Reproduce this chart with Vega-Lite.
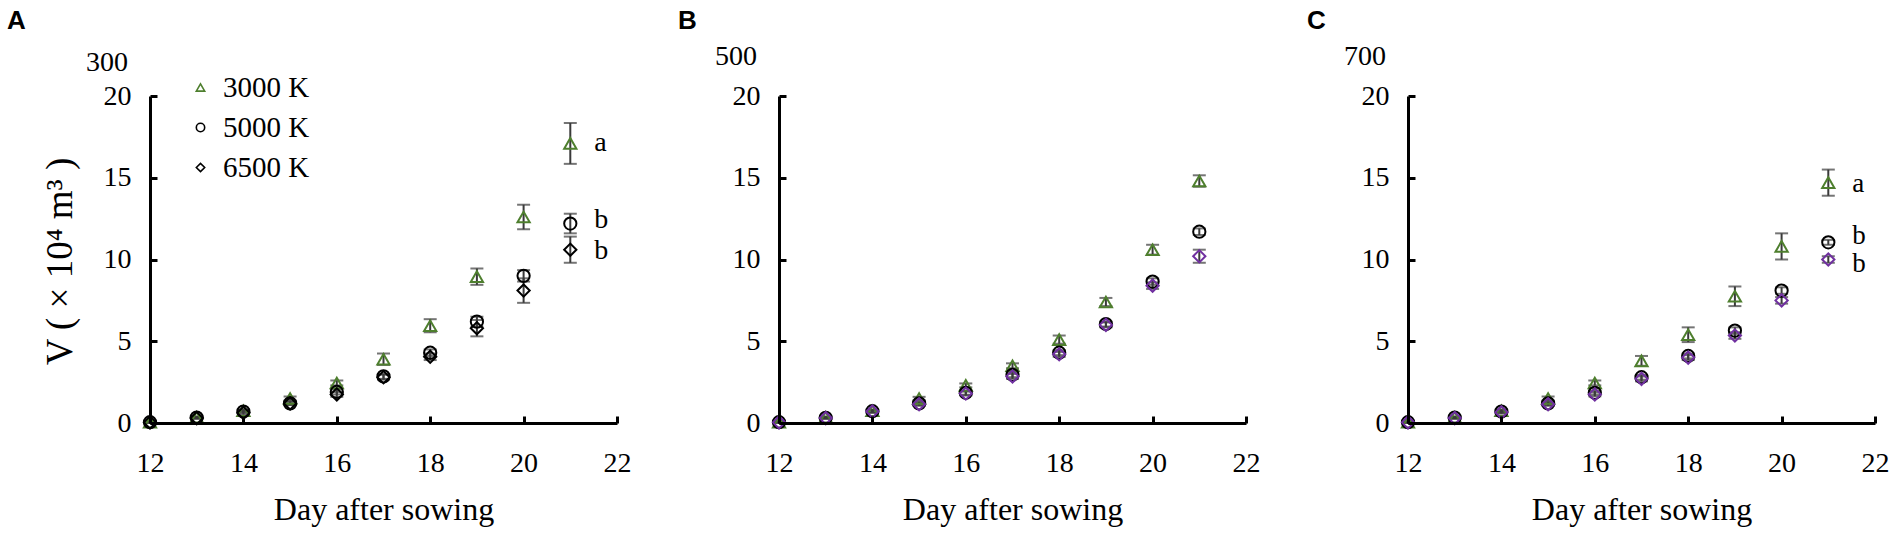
{
  "$schema": "https://vega.github.io/schema/vega-lite/v6.json",
  "background": "white",
  "padding": {"left": 7, "top": 8, "right": 5, "bottom": 5},
  "config": {
    "view": {"stroke": null},
    "axis": {
      "grid": false,
      "labelFont": "Liberation Serif",
      "labelFontSize": 28,
      "labelColor": "black",
      "titleFont": "Liberation Serif",
      "titleFontSize": 32,
      "titleFontWeight": "normal",
      "titleColor": "black"
    },
    "title": {"font": "Liberation Sans", "fontSize": 26, "fontWeight": "bold", "color": "black", "anchor": "start", "frame": "group"}
  },
  "datasets": {
    "ptsA": [
      {"day": 12, "v": 0.05, "err": 0.05, "series": "3000 K"},
      {"day": 13, "v": 0.35, "err": 0.05, "series": "3000 K"},
      {"day": 14, "v": 0.75, "err": 0.08, "series": "3000 K"},
      {"day": 15, "v": 1.5, "err": 0.12, "series": "3000 K"},
      {"day": 16, "v": 2.45, "err": 0.15, "series": "3000 K"},
      {"day": 17, "v": 3.9, "err": 0.35, "series": "3000 K"},
      {"day": 18, "v": 5.95, "err": 0.4, "series": "3000 K"},
      {"day": 19, "v": 8.95, "err": 0.5, "series": "3000 K"},
      {"day": 20, "v": 12.6, "err": 0.75, "series": "3000 K"},
      {"day": 21, "v": 17.1, "err": 1.25, "series": "3000 K"},
      {"day": 12, "v": 0.05, "err": 0.03, "series": "5000 K"},
      {"day": 13, "v": 0.33, "err": 0.05, "series": "5000 K"},
      {"day": 14, "v": 0.7, "err": 0.1, "series": "5000 K"},
      {"day": 15, "v": 1.2, "err": 0.1, "series": "5000 K"},
      {"day": 16, "v": 1.9, "err": 0.15, "series": "5000 K"},
      {"day": 17, "v": 2.85, "err": 0.15, "series": "5000 K"},
      {"day": 18, "v": 4.3, "err": 0.2, "series": "5000 K"},
      {"day": 19, "v": 6.2, "err": 0.3, "series": "5000 K"},
      {"day": 20, "v": 9.0, "err": 0.35, "series": "5000 K"},
      {"day": 21, "v": 12.2, "err": 0.6, "series": "5000 K"},
      {"day": 12, "v": 0.04, "err": 0.03, "series": "6500 K"},
      {"day": 13, "v": 0.3, "err": 0.05, "series": "6500 K"},
      {"day": 14, "v": 0.62, "err": 0.1, "series": "6500 K"},
      {"day": 15, "v": 1.2, "err": 0.1, "series": "6500 K"},
      {"day": 16, "v": 1.75, "err": 0.15, "series": "6500 K"},
      {"day": 17, "v": 2.8, "err": 0.15, "series": "6500 K"},
      {"day": 18, "v": 4.05, "err": 0.2, "series": "6500 K"},
      {"day": 19, "v": 5.8, "err": 0.5, "series": "6500 K"},
      {"day": 20, "v": 8.1, "err": 0.75, "series": "6500 K"},
      {"day": 21, "v": 10.6, "err": 0.8, "series": "6500 K"}
    ],
    "ptsB": [
      {"day": 12, "v": 0.05, "err": 0.03, "series": "3000 K"},
      {"day": 13, "v": 0.35, "err": 0.05, "series": "3000 K"},
      {"day": 14, "v": 0.75, "err": 0.08, "series": "3000 K"},
      {"day": 15, "v": 1.5, "err": 0.1, "series": "3000 K"},
      {"day": 16, "v": 2.3, "err": 0.12, "series": "3000 K"},
      {"day": 17, "v": 3.5, "err": 0.15, "series": "3000 K"},
      {"day": 18, "v": 5.1, "err": 0.25, "series": "3000 K"},
      {"day": 19, "v": 7.4, "err": 0.25, "series": "3000 K"},
      {"day": 20, "v": 10.6, "err": 0.3, "series": "3000 K"},
      {"day": 21, "v": 14.8, "err": 0.35, "series": "3000 K"},
      {"day": 12, "v": 0.05, "err": 0.03, "series": "5000 K"},
      {"day": 13, "v": 0.32, "err": 0.05, "series": "5000 K"},
      {"day": 14, "v": 0.72, "err": 0.08, "series": "5000 K"},
      {"day": 15, "v": 1.2, "err": 0.1, "series": "5000 K"},
      {"day": 16, "v": 1.85, "err": 0.12, "series": "5000 K"},
      {"day": 17, "v": 2.95, "err": 0.15, "series": "5000 K"},
      {"day": 18, "v": 4.3, "err": 0.15, "series": "5000 K"},
      {"day": 19, "v": 6.05, "err": 0.15, "series": "5000 K"},
      {"day": 20, "v": 8.65, "err": 0.2, "series": "5000 K"},
      {"day": 21, "v": 11.7, "err": 0.2, "series": "5000 K"},
      {"day": 12, "v": 0.04, "err": 0.03, "series": "6500 K"},
      {"day": 13, "v": 0.3, "err": 0.05, "series": "6500 K"},
      {"day": 14, "v": 0.7, "err": 0.08, "series": "6500 K"},
      {"day": 15, "v": 1.15, "err": 0.1, "series": "6500 K"},
      {"day": 16, "v": 1.8, "err": 0.12, "series": "6500 K"},
      {"day": 17, "v": 2.85, "err": 0.15, "series": "6500 K"},
      {"day": 18, "v": 4.2, "err": 0.15, "series": "6500 K"},
      {"day": 19, "v": 6.0, "err": 0.15, "series": "6500 K"},
      {"day": 20, "v": 8.4, "err": 0.2, "series": "6500 K"},
      {"day": 21, "v": 10.2, "err": 0.4, "series": "6500 K"}
    ],
    "ptsC": [
      {"day": 12, "v": 0.05, "err": 0.03, "series": "3000 K"},
      {"day": 13, "v": 0.35, "err": 0.05, "series": "3000 K"},
      {"day": 14, "v": 0.75, "err": 0.08, "series": "3000 K"},
      {"day": 15, "v": 1.5, "err": 0.12, "series": "3000 K"},
      {"day": 16, "v": 2.45, "err": 0.15, "series": "3000 K"},
      {"day": 17, "v": 3.8, "err": 0.3, "series": "3000 K"},
      {"day": 18, "v": 5.4, "err": 0.45, "series": "3000 K"},
      {"day": 19, "v": 7.75, "err": 0.6, "series": "3000 K"},
      {"day": 20, "v": 10.8, "err": 0.8, "series": "3000 K"},
      {"day": 21, "v": 14.7, "err": 0.8, "series": "3000 K"},
      {"day": 12, "v": 0.05, "err": 0.03, "series": "5000 K"},
      {"day": 13, "v": 0.33, "err": 0.05, "series": "5000 K"},
      {"day": 14, "v": 0.7, "err": 0.08, "series": "5000 K"},
      {"day": 15, "v": 1.2, "err": 0.1, "series": "5000 K"},
      {"day": 16, "v": 1.85, "err": 0.12, "series": "5000 K"},
      {"day": 17, "v": 2.8, "err": 0.15, "series": "5000 K"},
      {"day": 18, "v": 4.1, "err": 0.15, "series": "5000 K"},
      {"day": 19, "v": 5.65, "err": 0.2, "series": "5000 K"},
      {"day": 20, "v": 8.1, "err": 0.2, "series": "5000 K"},
      {"day": 21, "v": 11.05, "err": 0.15, "series": "5000 K"},
      {"day": 12, "v": 0.04, "err": 0.03, "series": "6500 K"},
      {"day": 13, "v": 0.3, "err": 0.05, "series": "6500 K"},
      {"day": 14, "v": 0.65, "err": 0.08, "series": "6500 K"},
      {"day": 15, "v": 1.15, "err": 0.1, "series": "6500 K"},
      {"day": 16, "v": 1.75, "err": 0.12, "series": "6500 K"},
      {"day": 17, "v": 2.7, "err": 0.15, "series": "6500 K"},
      {"day": 18, "v": 4.0, "err": 0.15, "series": "6500 K"},
      {"day": 19, "v": 5.35, "err": 0.2, "series": "6500 K"},
      {"day": 20, "v": 7.5, "err": 0.2, "series": "6500 K"},
      {"day": 21, "v": 10.0, "err": 0.2, "series": "6500 K"}
    ],
    "lettersA": [
      {"day": 21, "v": 17.1, "label": "a"},
      {"day": 21, "v": 12.4, "label": "b"},
      {"day": 21, "v": 10.5, "label": "b"}
    ],
    "lettersC": [
      {"day": 21, "v": 14.6, "label": "a"},
      {"day": 21, "v": 11.45, "label": "b"},
      {"day": 21, "v": 9.75, "label": "b"}
    ]
  },
  "bounds": "flush",
  "spacing": 162,
  "hconcat": [
    {
      "width": 467,
      "height": 327,
      "title": {"text": "A", "dx": -143, "offset": 15},
      "data": {"name": "ptsA"},
      "layer": [
        {
          "mark": {"type": "errorbar", "ticks": {"size": 13}, "thickness": 2, "color": "#3a3a3a"},
          "encoding": {
            "x": {"field": "day", "type": "quantitative", "scale": {"domain": [12, 22], "nice": false},
                  "axis": {"values": [12, 14, 16, 18, 20, 22], "title": "Day after sowing", "titleY": 96, "titleBaseline": "alphabetic", "labelFlush": false,
                           "domain": true, "ticks": true, "domainColor": "#000000", "domainWidth": 3, "domainOpacity": 1, "tickColor": "#000000", "tickWidth": 3, "tickOpacity": 1, "tickSize": -7, "labelPadding": 33, "zindex": 1}},
            "y": {"field": "v", "type": "quantitative", "scale": {"domain": [0, 20], "nice": false},
                  "axis": {"values": [0, 5, 10, 15, 20], "title": "V ( × 10⁴ m³ )", "titleFontSize": 37, "titleAngle": -90, "titleX": -79, "titleY": 165, "titleAlign": "center", "titleBaseline": "alphabetic", "labelFlush": false,
                           "domain": true, "ticks": true, "domainColor": "#000000", "domainWidth": 3, "domainOpacity": 1, "tickColor": "#000000", "tickWidth": 3, "tickOpacity": 1, "tickSize": -7, "labelPadding": 26, "zindex": 1}},
            "yError": {"field": "err"}
          }
        },
        {
          "mark": {"type": "point", "filled": false, "size": 150, "strokeWidth": 2, "opacity": 1},
          "encoding": {
            "x": {"field": "day", "type": "quantitative"},
            "y": {"field": "v", "type": "quantitative"},
            "color": {"field": "series", "type": "nominal", "scale": {"domain": ["3000 K", "5000 K", "6500 K"], "range": ["#4e7f2e", "#000000", "#000000"]},
                      "legend": {"orient": "none", "legendX": 36, "legendY": -23, "title": null, "labelFont": "Liberation Serif", "labelFontSize": 29, "labelColor": "black", "symbolSize": 70, "symbolStrokeWidth": 1.6, "rowPadding": 10, "labelOffset": 8, "padding": 0}},
            "shape": {"field": "series", "type": "nominal", "scale": {"domain": ["3000 K", "5000 K", "6500 K"], "range": ["triangle-up", "circle", "diamond"]},
                      "legend": {"orient": "none", "legendX": 36, "legendY": -23, "title": null, "labelFont": "Liberation Serif", "labelFontSize": 29, "labelColor": "black", "symbolSize": 70, "symbolStrokeWidth": 1.6, "rowPadding": 10, "labelOffset": 8, "padding": 0}}
          }
        },
        {
          "data": {"name": "lettersA"},
          "mark": {"type": "text", "align": "left", "baseline": "middle", "dx": 24, "font": "Liberation Serif", "fontSize": 28, "color": "black"},
          "encoding": {
            "x": {"field": "day", "type": "quantitative"},
            "y": {"field": "v", "type": "quantitative"},
            "text": {"field": "label"}
          }
        },
        {
          "data": {"values": [{"t": "300"}]},
          "mark": {"type": "text", "align": "right", "baseline": "middle", "dx": -22, "dy": -33, "font": "Liberation Serif", "fontSize": 28, "color": "black"},
          "encoding": {"x": {"datum": 12}, "y": {"datum": 20}, "text": {"field": "t"}}
        }
      ]
    },
    {
      "width": 467,
      "height": 327,
      "title": {"text": "B", "dx": -101, "offset": 9},
      "data": {"name": "ptsB"},
      "layer": [
        {
          "mark": {"type": "errorbar", "ticks": {"size": 13}, "thickness": 2, "color": "#3a3a3a"},
          "encoding": {
            "x": {"field": "day", "type": "quantitative", "scale": {"domain": [12, 22], "nice": false},
                  "axis": {"values": [12, 14, 16, 18, 20, 22], "title": "Day after sowing", "titleY": 96, "titleBaseline": "alphabetic", "labelFlush": false,
                           "domain": true, "ticks": true, "domainColor": "#000000", "domainWidth": 3, "domainOpacity": 1, "tickColor": "#000000", "tickWidth": 3, "tickOpacity": 1, "tickSize": -7, "labelPadding": 33, "zindex": 1}},
            "y": {"field": "v", "type": "quantitative", "scale": {"domain": [0, 20], "nice": false},
                  "axis": {"values": [0, 5, 10, 15, 20], "title": null, "labelFlush": false,
                           "domain": true, "ticks": true, "domainColor": "#000000", "domainWidth": 3, "domainOpacity": 1, "tickColor": "#000000", "tickWidth": 3, "tickOpacity": 1, "tickSize": -7, "labelPadding": 26, "zindex": 1}},
            "yError": {"field": "err"}
          }
        },
        {
          "mark": {"type": "point", "filled": false, "size": 150, "strokeWidth": 2, "opacity": 1},
          "encoding": {
            "x": {"field": "day", "type": "quantitative"},
            "y": {"field": "v", "type": "quantitative"},
            "color": {"field": "series", "type": "nominal", "scale": {"domain": ["3000 K", "5000 K", "6500 K"], "range": ["#4e7f2e", "#000000", "#7030a0"]}, "legend": null},
            "shape": {"field": "series", "type": "nominal", "scale": {"domain": ["3000 K", "5000 K", "6500 K"], "range": ["triangle-up", "circle", "diamond"]}, "legend": null}
          }
        },
        {
          "data": {"values": [{"t": "500"}]},
          "mark": {"type": "text", "align": "right", "baseline": "middle", "dx": -22, "dy": -39, "font": "Liberation Serif", "fontSize": 28, "color": "black"},
          "encoding": {"x": {"datum": 12}, "y": {"datum": 20}, "text": {"field": "t"}}
        }
      ]
    },
    {
      "width": 467,
      "height": 327,
      "title": {"text": "C", "dx": -101, "offset": 9},
      "data": {"name": "ptsC"},
      "layer": [
        {
          "mark": {"type": "errorbar", "ticks": {"size": 13}, "thickness": 2, "color": "#3a3a3a"},
          "encoding": {
            "x": {"field": "day", "type": "quantitative", "scale": {"domain": [12, 22], "nice": false},
                  "axis": {"values": [12, 14, 16, 18, 20, 22], "title": "Day after sowing", "titleY": 96, "titleBaseline": "alphabetic", "labelFlush": false,
                           "domain": true, "ticks": true, "domainColor": "#000000", "domainWidth": 3, "domainOpacity": 1, "tickColor": "#000000", "tickWidth": 3, "tickOpacity": 1, "tickSize": -7, "labelPadding": 33, "zindex": 1}},
            "y": {"field": "v", "type": "quantitative", "scale": {"domain": [0, 20], "nice": false},
                  "axis": {"values": [0, 5, 10, 15, 20], "title": null, "labelFlush": false,
                           "domain": true, "ticks": true, "domainColor": "#000000", "domainWidth": 3, "domainOpacity": 1, "tickColor": "#000000", "tickWidth": 3, "tickOpacity": 1, "tickSize": -7, "labelPadding": 26, "zindex": 1}},
            "yError": {"field": "err"}
          }
        },
        {
          "mark": {"type": "point", "filled": false, "size": 150, "strokeWidth": 2, "opacity": 1},
          "encoding": {
            "x": {"field": "day", "type": "quantitative"},
            "y": {"field": "v", "type": "quantitative"},
            "color": {"field": "series", "type": "nominal", "scale": {"domain": ["3000 K", "5000 K", "6500 K"], "range": ["#4e7f2e", "#000000", "#7030a0"]}, "legend": null},
            "shape": {"field": "series", "type": "nominal", "scale": {"domain": ["3000 K", "5000 K", "6500 K"], "range": ["triangle-up", "circle", "diamond"]}, "legend": null}
          }
        },
        {
          "data": {"name": "lettersC"},
          "mark": {"type": "text", "align": "left", "baseline": "middle", "dx": 24, "font": "Liberation Serif", "fontSize": 27, "color": "black"},
          "encoding": {
            "x": {"field": "day", "type": "quantitative"},
            "y": {"field": "v", "type": "quantitative"},
            "text": {"field": "label"}
          }
        },
        {
          "data": {"values": [{"t": "700"}]},
          "mark": {"type": "text", "align": "right", "baseline": "middle", "dx": -22, "dy": -39, "font": "Liberation Serif", "fontSize": 28, "color": "black"},
          "encoding": {"x": {"datum": 12}, "y": {"datum": 20}, "text": {"field": "t"}}
        }
      ]
    }
  ],
  "resolve": {"scale": {"color": "independent", "shape": "independent"}, "legend": {"color": "independent", "shape": "independent"}}
}
